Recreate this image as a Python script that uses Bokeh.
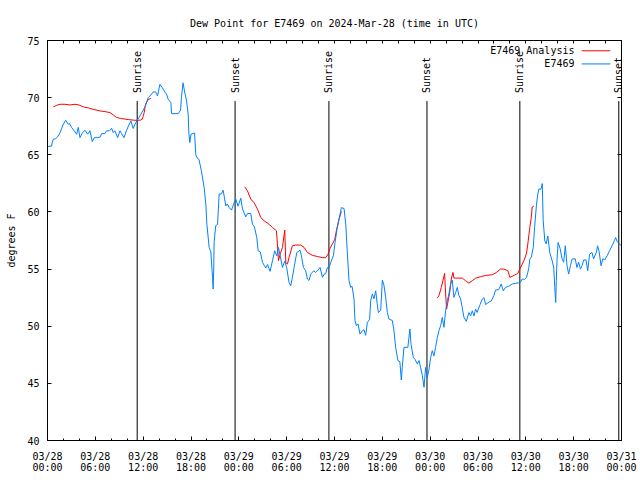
import math
from bokeh.plotting import figure
from bokeh.models import FixedTicker, LinearAxis, Range1d
from bokeh.embed import file_html
from bokeh.resources import INLINE
from bokeh.core.properties import value

# ---------------- data (hours since 2024-03-28 00:00 UTC, degrees F) ----------------
obs_hours = [0.0, 0.19, 0.5, 0.6, 0.73, 1.0, 1.3, 1.57, 1.98, 2.28, 2.6, 2.75, 3.03, 3.36, 3.66,
             3.86, 4.07, 4.36, 4.7, 5.03, 5.33, 5.62, 5.87, 6.3, 6.6, 6.79, 7.2, 7.41, 7.8, 8.04,
             8.25, 8.45, 8.8, 9.09, 9.3, 9.59, 9.9, 10.2, 10.46, 10.75, 10.96, 11.2, 11.6, 12.0,
             12.3, 12.63, 12.97, 13.26, 13.56, 13.8, 14.1, 14.39, 14.72, 14.93, 15.14, 15.48,
             15.56, 16.4, 16.69, 16.8, 17.0, 17.23, 17.45, 17.65, 17.73, 17.85, 18.0, 18.45, 18.6,
             18.8, 19.0, 19.3, 19.65, 19.86, 19.99, 20.28, 20.49, 20.7, 20.78, 20.85, 20.9, 21.1,
             21.33, 21.53, 21.8, 22.03, 22.37, 22.55, 22.78, 23.08, 23.25, 23.41, 23.62, 23.9,
             24.25, 24.46, 24.87, 25.08, 25.5, 25.71, 25.95, 26.25, 26.42, 26.7, 26.97, 27.38,
             27.6, 27.92, 28.22, 28.5, 28.76, 28.97, 29.15, 29.47, 29.76, 30.0, 30.3, 30.51,
             30.72, 30.93, 31.27, 31.68, 31.85, 32.1, 32.39, 32.6, 32.8, 33.02, 33.4, 33.6, 33.86,
             34.19, 34.49, 34.7, 34.9, 35.11, 35.32, 35.53, 35.86, 36.07, 36.28, 36.57, 36.87,
             37.2, 37.41, 37.62, 37.82, 38.03, 38.2, 38.45, 38.57, 38.75, 38.95, 39.2, 39.5, 39.7,
             39.91, 40.12, 40.41, 40.54, 40.75, 40.95, 41.17, 41.35, 41.5, 41.8, 42.0, 42.2,
             42.42, 42.63, 42.83, 43.25, 43.46, 43.67, 43.96, 44.2, 44.38, 44.5, 44.71, 45.2,
             45.46, 45.6, 45.89, 46.1, 46.39, 46.6, 46.8, 47.02, 47.23, 47.43, 47.64, 47.85,
             48.06, 48.27, 48.47, 48.68, 48.9, 49.1, 49.31, 49.52, 49.73, 49.94, 50.15, 50.35,
             50.56, 50.77, 50.98, 51.2, 51.4, 51.6, 51.82, 52.03, 52.24, 52.53, 52.86, 53.07,
             53.28, 53.5, 53.7, 53.9, 54.2, 54.54, 54.75, 54.95, 55.36, 55.66, 55.99, 56.2, 56.6,
             56.92, 57.17, 57.45, 57.87, 58.3, 58.7, 59.12, 59.33, 59.55, 59.84, 60.09, 60.25,
             60.38, 60.5, 60.68, 60.93, 61.1, 61.34, 61.5, 61.63, 61.9, 62.06, 62.18, 62.38,
             62.55, 62.76, 63.0, 63.3, 63.5, 63.63, 63.75, 63.82, 63.92, 64.05, 64.3, 64.55,
             64.75, 64.95, 65.17, 65.37, 65.6, 65.79, 66.2, 66.41, 66.62, 66.85, 67.05, 67.26,
             67.55, 67.76, 68.0, 68.3, 68.5, 68.86, 69.0, 69.2, 69.44, 69.65, 69.9, 70.19, 70.5,
             70.82, 71.1, 71.27, 71.45, 71.65, 71.95]
obs_dewpt = [65.7, 65.75, 65.75, 66.1, 66.36, 66.4, 66.6, 66.94, 67.67, 68.02, 67.67, 67.75, 67.38,
             67.09, 66.8, 67.4, 66.5, 66.9, 67.15, 66.8, 67.1, 66.15, 66.5, 66.5, 66.55, 66.85,
             66.85, 67.1, 67.1, 67.32, 66.94, 67.1, 66.5, 67.1, 66.85, 66.5, 67.1, 67.6, 67.96,
             67.3, 67.65, 67.96, 68.4, 68.9, 69.3, 70.0, 70.24, 70.5, 70.5, 70.15, 71.17, 70.87,
             70.5, 70.3, 69.86, 69.56, 68.6, 68.6, 68.9, 70.0, 71.3, 70.4, 69.7, 68.5, 66.9,
             66.07, 66.8, 66.9, 65.0, 64.7, 64.6, 63.6, 62.13, 60.68, 58.93, 56.89, 56.5, 54.27,
             53.25, 55.0, 57.33, 58.8, 58.9, 61.56, 61.56, 61.9, 60.53, 60.7, 60.4, 60.16, 60.5,
             60.8, 61.12, 60.5, 61.2, 60.25, 59.57, 59.86, 59.86, 58.93, 58.7, 57.76, 56.6, 56.5,
             55.58, 55.09, 55.4, 54.8, 55.73, 56.6, 56.16, 56.89, 56.3, 55.14, 55.7, 55.14, 53.83,
             53.54, 54.27, 55.14, 56.45, 56.65, 56.16, 55.14, 54.85, 54.13, 54.0, 54.56, 54.85,
             54.7, 54.85, 55.14, 54.27, 54.56, 54.6, 55.14, 55.14, 55.58, 56.16, 57.33, 58.35,
             59.37, 60.38, 60.3, 58.93, 56.31, 53.98, 53.4, 53.5, 52.38, 50.48, 50.04, 50.2,
             49.32, 49.6, 49.7, 49.2, 50.33, 50.6, 52.23, 52.82, 52.4, 53.1, 52.0, 51.2, 51.4,
             54.04, 53.6, 52.52, 51.2, 50.63, 50.5, 49.6, 48.15, 46.98, 46.9, 45.3, 46.4, 48.15,
             48.15, 49.76, 48.4, 47.27, 47.1, 46.7, 47.0, 46.4, 45.67, 44.65, 46.4, 45.52, 46.2,
             47.27, 47.86, 47.4, 48.15, 49.02, 49.6, 50.04, 50.77, 49.9, 51.36, 52.23, 52.82,
             53.69, 54.04, 52.52, 52.95, 53.4, 52.7, 52.38, 51.6, 50.77, 50.42, 51.2, 50.9, 51.35,
             50.9, 51.5, 51.2, 51.8, 52.38, 52.5, 51.9, 52.1, 52.2, 52.67, 53.16, 53.2, 53.69,
             53.1, 53.4, 53.5, 53.69, 53.75, 53.8, 53.85, 54.13, 54.1, 54.27, 54.71, 55.14, 55.87,
             56.02, 56.89, 58.64, 60.68, 61.56, 62.0, 62.0, 62.48, 59.22, 57.47, 57.2, 57.9,
             56.45, 55.73, 55.14, 53.4, 52.08, 54.0, 55.87, 57.33, 56.8, 55.87, 55.6, 57.04,
             55.29, 54.56, 55.3, 55.87, 55.9, 55.14, 55.6, 55.0, 55.3, 55.8, 55.8, 54.85, 56.31,
             56.45, 55.9, 56.5, 57.04, 56.5, 55.29, 55.9, 55.8, 56.16, 56.6, 57.04, 57.47, 57.76,
             57.4, 57.3, 57.04]

nan = float("nan")
ana_hours = [0.73, 1.15, 1.57, 2.19, 2.82, 3.45, 3.95, 4.49, 5.11, 5.74, 6.58, 7.2, 7.83, 8.25,
             8.67, 9.3, 10.13, 10.96, 11.59, 11.88, 12.13, 12.3, 12.55, 12.97,
             13.5,
             24.75, 25.08, 25.5, 25.92, 26.34, 26.75, 27.17, 27.67, 28.22, 28.72, 28.84, 28.97,
             29.18, 29.47, 29.76, 29.89, 30.1, 30.3, 30.72, 31.14, 31.77, 32.18, 32.6, 33.23,
             33.86, 34.49, 34.9, 35.19, 35.44, 35.74, 36.03, 36.28, 36.57, 36.87,
             37.5,
             48.9, 49.1, 49.4, 49.65, 49.81, 49.94, 50.06, 50.25, 50.48, 50.65, 50.86, 50.98,
             51.4, 52.03, 52.44, 52.86, 53.28, 53.7, 54.32, 54.95, 55.79, 56.33, 56.83, 57.25,
             57.75, 58.0, 58.5, 59.0, 59.25, 59.55, 59.84, 60.09, 60.25, 60.5, 60.68, 60.8, 61.0]
ana_dewpt = [69.19, 69.33, 69.42, 69.42, 69.36, 69.42, 69.36, 69.19, 69.1, 68.98, 68.84, 68.78,
             68.69, 68.49, 68.26, 68.17, 68.08, 68.02, 68.02, 68.1, 68.69, 69.42, 69.77, 69.95,
             nan,
             62.19, 61.84, 61.12, 60.8, 60.25, 59.51, 59.22, 58.99, 58.64, 58.35, 57.19, 55.73,
             56.3, 56.89, 58.41, 55.58, 55.44, 56.02, 57.04, 57.1, 57.1, 56.9, 56.45, 56.2, 56.1,
             56.0, 56.0, 56.3, 56.83, 57.19, 57.6, 58.5, 59.37, 60.04,
             nan,
             52.47, 52.67, 53.4, 54.13, 54.62, 52.82, 51.5, 52.2, 53.1, 54.13, 54.71, 54.21,
             54.21, 54.21, 53.98, 53.77, 53.98, 54.21, 54.33, 54.44, 54.5, 54.71, 55.0, 55.0,
             54.85, 54.27, 54.44, 54.62, 55.0, 55.43, 55.87, 56.4, 57.2, 58.64, 59.51, 60.44, 60.5]

sun_hours = [11.25, 23.53, 35.3, 47.6, 59.25, 71.66]
sun_labels = ["Sunrise", "Sunset", "Sunrise", "Sunset", "Sunrise", "Sunset"]

x_ticks = [0, 6, 12, 18, 24, 30, 36, 42, 48, 54, 60, 66, 72]
x_tick_labels = ["03/28\n00:00", "03/28\n06:00", "03/28\n12:00", "03/28\n18:00",
                 "03/29\n00:00", "03/29\n06:00", "03/29\n12:00", "03/29\n18:00",
                 "03/30\n00:00", "03/30\n06:00", "03/30\n12:00", "03/30\n18:00",
                 "03/31\n00:00"]
x_minor = [h for h in range(0, 73, 2)]
y_ticks = [40, 45, 50, 55, 60, 65, 70, 75]

series_names = ["E7469 Analysis", "E7469"]
series_colors = ["#ff0000", "#0080ff"]

# ---------------- figure ----------------
FONT = "DejaVu Sans Mono"
FS = "10px"

p = figure(width=640, height=480, output_backend="svg", toolbar_location=None,
           x_range=Range1d(0, 72), y_range=Range1d(40, 75),
           min_border_left=47, min_border_right=19, min_border_top=40, min_border_bottom=40,
           title="Dew Point for E7469 on 2024-Mar-28 (time in UTC)")
p.title.align = "center"
p.title.text_font = FONT
p.title.text_font_size = FS
p.title.text_font_style = "normal"
p.title.text_color = "black"
p.title.standoff = 24

p.xgrid.visible = False
p.ygrid.visible = False
p.outline_line_color = "black"
p.outline_line_alpha = 1.0
p.background_fill_color = "white"
p.border_fill_color = "white"


def style_ticks(ax):
    ax.axis_line_color = "black"
    ax.major_tick_in = 4
    ax.major_tick_out = 0
    ax.minor_tick_in = 2
    ax.minor_tick_out = 0
    ax.major_tick_line_color = "black"
    ax.minor_tick_line_color = "black"
    ax.major_label_text_font = FONT
    ax.major_label_text_font_size = FS
    ax.major_label_text_color = "black"


p.xaxis.ticker = FixedTicker(ticks=x_ticks, minor_ticks=x_minor)
p.xaxis.major_label_overrides = {t: lab for t, lab in zip(x_ticks, x_tick_labels)}
style_ticks(p.xaxis[0])
p.xaxis.major_label_standoff = 10
p.xaxis.major_label_text_line_height = 1.0

p.yaxis.ticker = FixedTicker(ticks=y_ticks, minor_ticks=[])
style_ticks(p.yaxis[0])
p.yaxis.major_label_standoff = 8
p.yaxis.axis_label = "degrees F"
p.yaxis.axis_label_text_font = FONT
p.yaxis.axis_label_text_font_size = FS
p.yaxis.axis_label_text_font_style = "normal"
p.yaxis.axis_label_text_color = "black"
p.yaxis.axis_label_standoff = 7

# mirrored tick marks (no labels) on top and right
top_ax = LinearAxis(ticker=FixedTicker(ticks=[], minor_ticks=x_minor))
style_ticks(top_ax)
top_ax.minor_tick_in = 3
p.add_layout(top_ax, "above")
right_ax = LinearAxis(ticker=FixedTicker(ticks=[], minor_ticks=y_ticks))
style_ticks(right_ax)
right_ax.minor_tick_in = 4
p.add_layout(right_ax, "right")

# sunrise / sunset markers
SUN_LINE_TOP = 69.7
SUN_LABEL_Y = 70.4
p.segment(x0=sun_hours, y0=[40] * len(sun_hours), x1=sun_hours, y1=[SUN_LINE_TOP] * len(sun_hours),
          line_color="black", line_width=1)
p.text(x=sun_hours, y=[SUN_LABEL_Y] * len(sun_hours), text=sun_labels, angle=math.pi / 2,
       text_align="left", text_baseline="middle", text_font=value(FONT), text_font_size=FS,
       text_color="black")

# series (analysis first, observations on top)
p.line(ana_hours, ana_dewpt, line_color=series_colors[0], line_width=1)
p.line(obs_hours, obs_dewpt, line_color=series_colors[1], line_width=1)

# key (text then sample, gnuplot style)
KEY_TEXT_X = 66.1
KEY_LINE_X0, KEY_LINE_X1 = 67.0, 70.6
KEY_Y = [74.1, 72.95]
p.text(x=[KEY_TEXT_X] * 2, y=KEY_Y, text=series_names, text_align="right", text_baseline="middle",
       text_font=value(FONT), text_font_size=FS, text_color="black")
p.segment(x0=[KEY_LINE_X0] * 2, y0=KEY_Y, x1=[KEY_LINE_X1] * 2, y1=KEY_Y,
          line_color=series_colors, line_width=1)

open("out.html", "w").write(file_html(p, INLINE))
